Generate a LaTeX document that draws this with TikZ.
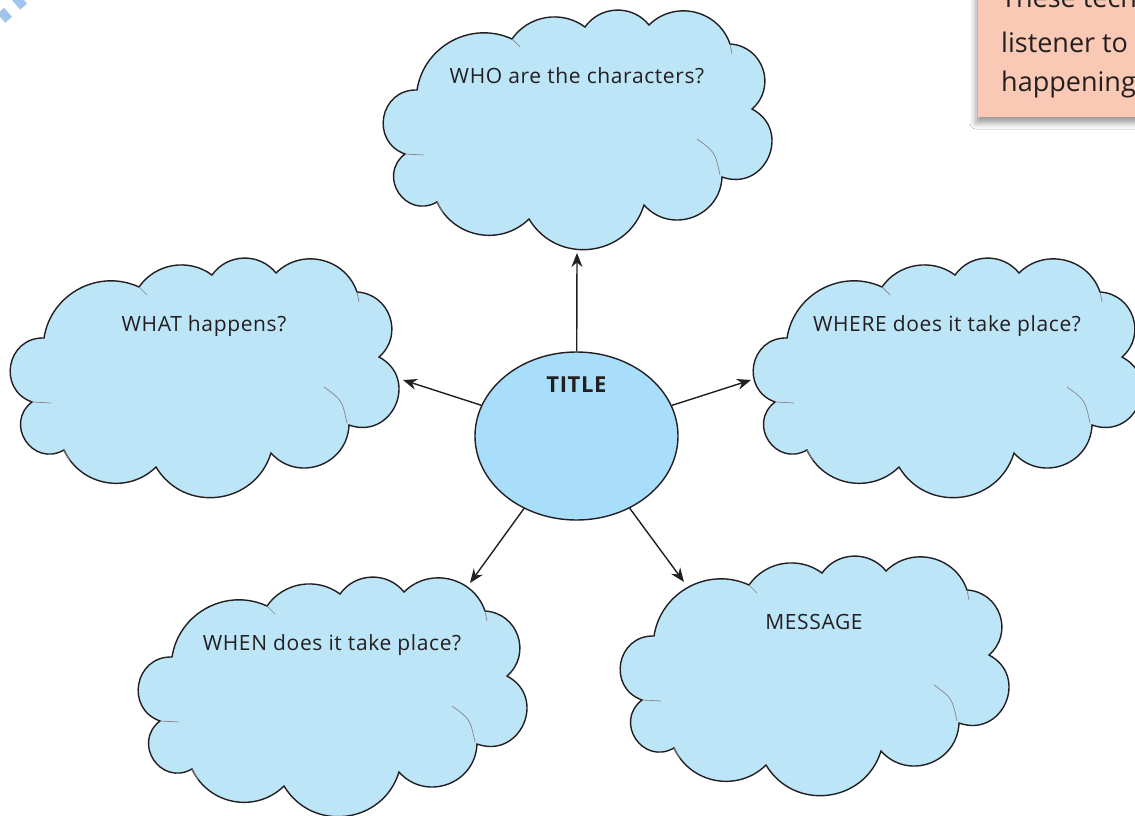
\documentclass[tikz,border=0pt]{standalone}
\usepackage{fontspec}
\setmainfont[LetterSpace=3]{Open Sans}
\newfontfamily\notefont{Open Sans}
\usetikzlibrary{
  arrows.meta,
  shapes.geometric,
  shadows.blur
}
\definecolor{cloudfill}{RGB}{189,229,248}
\definecolor{titlefill}{RGB}{168,222,249}
\definecolor{inkline}{RGB}{35,31,32}
\definecolor{notefill}{RGB}{250,201,181}
\definecolor{ribbon}{RGB}{160,196,236}

\tikzset{
>={Stealth[length=14pt,width=11pt]},
cloudline/.style={draw=inkline, line width=1.4pt, fill=cloudfill},
crease/.style={draw=inkline!55, line width=0.7pt},
cloudtext/.style={text=inkline, font=\fontsize{21}{25}\selectfont, inner sep=0pt, anchor=base},
titlebox/.style={ellipse, draw=inkline, line width=1.4pt, fill=titlefill,
  minimum width=203pt, minimum height=168pt, inner sep=0pt},
titletext/.style={text=inkline, font=\bfseries\fontsize{22}{26}\selectfont, inner sep=0pt, anchor=base},
notetext/.style={text=inkline, font=\notefont\fontsize{27}{32}\selectfont, inner sep=0pt, anchor=base west},
spoke/.style={->, draw=inkline, line width=1.4pt}
}

% one cloud round a centre: #1 centre, #2 name of its label, #3 label
\newcommand{\cloud}[3]{%
\begin{scope}[shift={#1}]
 \draw[cloudline] (-160,-40)
   to[bend left=53, looseness=1.06] (-65,-91)
   to[bend left=46, looseness=1.00] (8,-103)
   to[bend left=53, looseness=1.06] (72,-105)
   to[bend left=58, looseness=1.11] (153,-86)
   to[bend left=68, looseness=1.24] (175,-21)
   to[bend left=86, looseness=1.59] (145,47)
   to[bend left=68, looseness=1.24] (67,75)
   to[bend left=66, looseness=1.21] (-48,89)
   to[bend left=55, looseness=1.08] (-140,72)
   to[bend left=86, looseness=1.59] (-172,24)
   to[bend left=81, looseness=1.47] (-160,-40) -- cycle;
 \draw[crease] (143,45) .. controls (138,22) .. (120,9);
 \draw[crease] (-65,-91) -- (-57,-83);
 \draw[crease] (153,-86) -- (155,-76);
 \draw[crease] (-172,24) -- (-153,25);
 \draw[crease] (-140,72) -- (-134,83);
 \node[cloudtext] (#2) at (0,-47) {#3};
\end{scope}}

\begin{document}
\begin{tikzpicture}[x=1pt, y=-1pt]
 \clip (0,0) rectangle (1135,816);
 \fill[white] (0,0) rectangle (1135,816);

 % corner marks and the note box
 \draw[ribbon, line width=12pt, dash pattern=on 9pt off 11pt] (1.3,18.3) -- (40,-16);
 \path[fill=notefill, blur shadow={shadow xshift=-2pt, shadow yshift=-6pt, shadow blur radius=6pt}]
   (978,-20) rectangle (1170,117);
 \node[notetext] (note1) at (1001,8) {These tech};
 \node[notetext] (note2) at (1001,53) {listener to};
 \node[notetext] (note3) at (1001,92) {happening};

 \cloud{(577,130)}{who}{WHO are the characters?}
 \cloud{(204,378)}{what}{WHAT happens?}
 \cloud{(947,378)}{where}{WHERE does it take place?}
 \cloud{(332,697)}{when}{WHEN does it take place?}
 \cloud{(814,676)}{message}{MESSAGE}

 \node[titlebox] (title) at (576.5,436) {};
 \node[titletext] (titlelab) at (576.5,392) {TITLE};

 \coordinate (who-in) at (577,253);
 \coordinate (what-in) at (403,380);
 \coordinate (where-in) at (751,380);
 \coordinate (when-in) at (470,583);
 \coordinate (message-in) at (684,582);

 \draw[spoke] (title) -- (who-in);
 \draw[spoke] (title) -- (what-in);
 \draw[spoke] (title) -- (where-in);
 \draw[spoke] (title) -- (when-in);
 \draw[spoke] (title) -- (message-in);
\end{tikzpicture}
\end{document}
